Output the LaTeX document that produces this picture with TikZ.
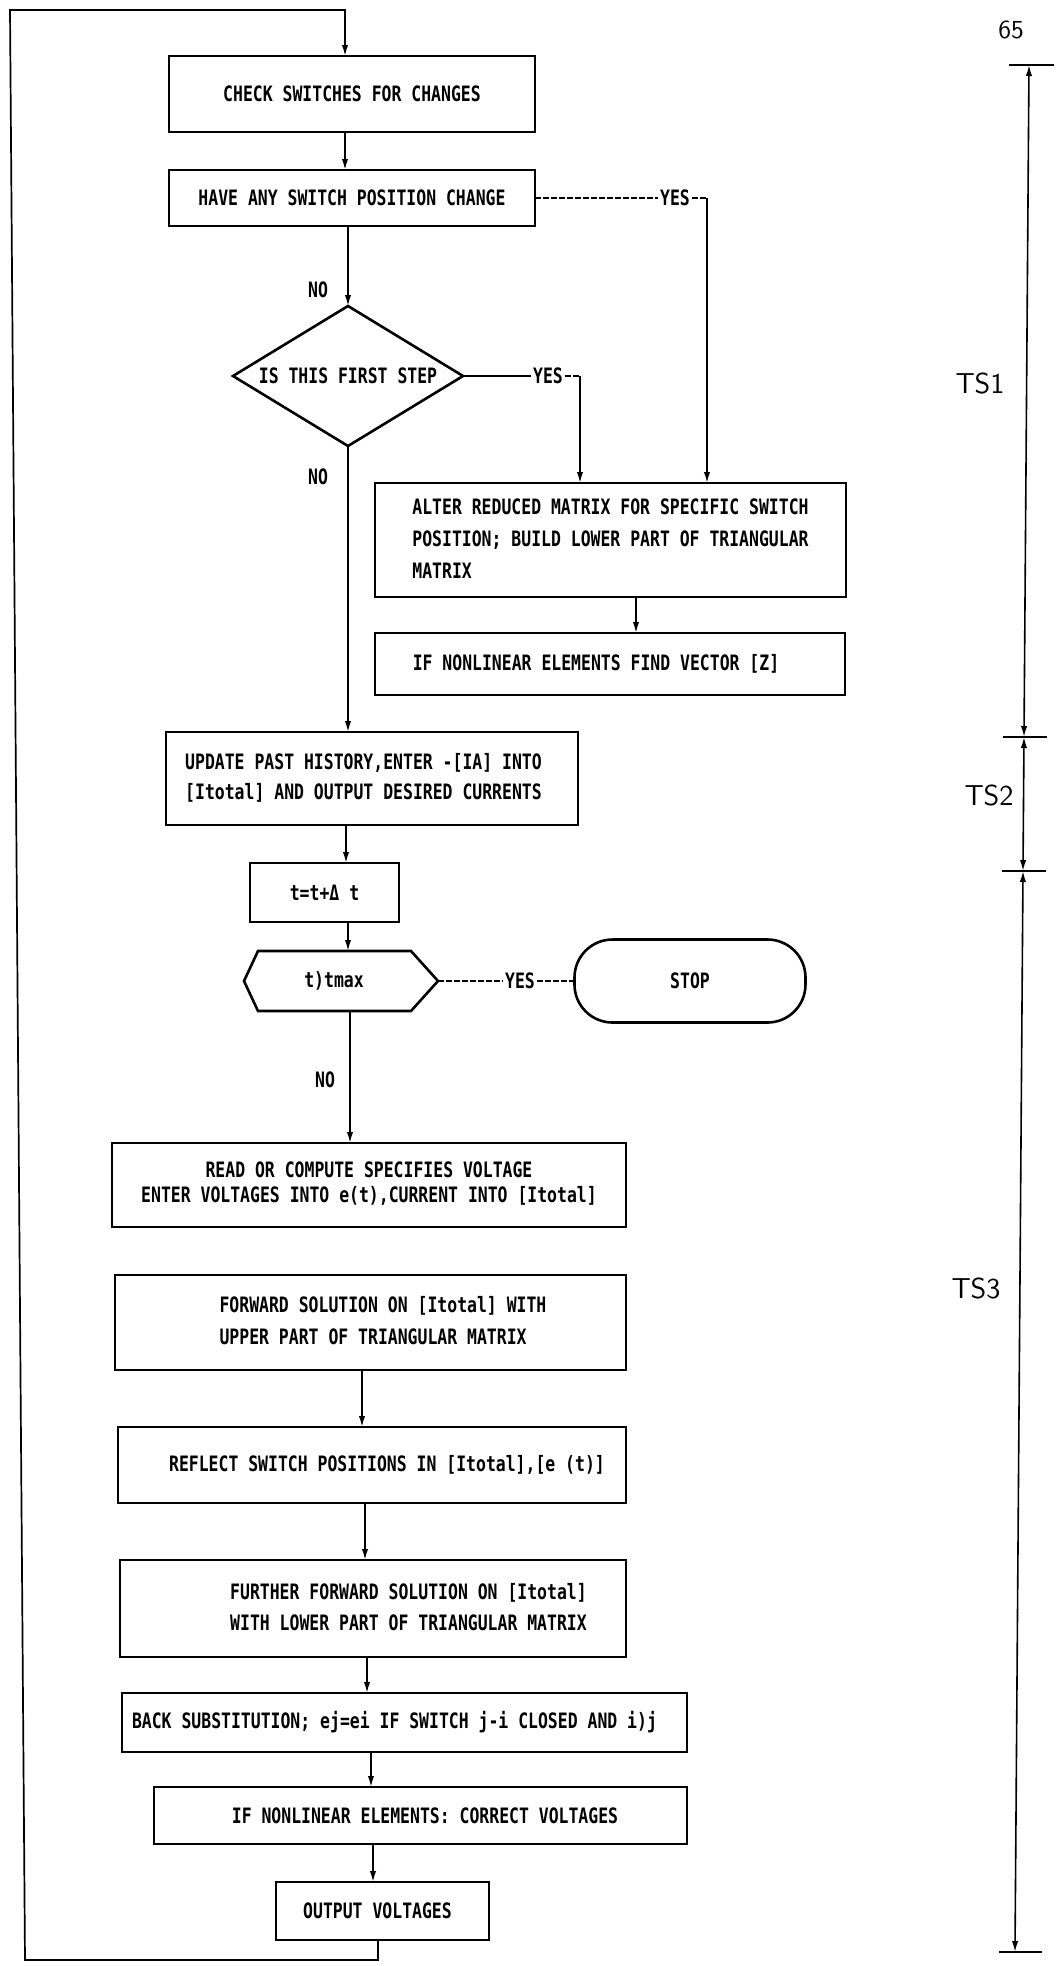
\documentclass[tikz,border=0pt]{standalone}
\usepackage{fontspec}
\usetikzlibrary{arrows.meta}
\newfontfamily\plotfont[FakeStretch=0.776]{DejaVu Sans Mono}
\newcommand{\plotsz}{\fontsize{10.6}{16}\plotfont\bfseries}
\newcommand{\tsfnt}{\fontsize{14.4}{16}\sffamily\addfontfeatures{LetterSpace=18}}
\newcommand{\rows}[2]{{\renewcommand{\arraystretch}{#1}\begin{tabular}{@{}l@{}}#2\end{tabular}}}
\newcommand{\rowsc}[2]{{\renewcommand{\arraystretch}{#1}\begin{tabular}{@{}c@{}}#2\end{tabular}}}
\begin{document}
\begin{tikzpicture}[x=0.5pt,y=-0.5pt,
  box/.style={draw, line width=1.3pt, inner xsep=1pt, inner ysep=0pt, outer sep=0pt, font=\plotsz},
  ghost/.style={draw=none, inner sep=0pt, outer sep=0pt, font=\plotsz},
  outline/.style={line width=1.3pt, line join=miter},
  lbl/.style={inner sep=1pt, outer sep=0pt, font=\plotsz},
  tsl/.style={inner sep=0pt, font=\tsfnt},
  conn/.style={line width=0.85pt},
  arr/.style={conn, -{Latex[length=5.5pt,width=3.2pt]}},
  dsh/.style={conn, dash pattern=on 3pt off 1pt},
  bar/.style={line width=1.2pt},
  dim/.style={line width=0.8pt, {Latex[length=5.5pt,width=3.2pt]}-{Latex[length=5.5pt,width=3.2pt]}}
]
\useasboundingbox[fill=white] (0,0) rectangle (1061,1966);

% ---- flow nodes
\node[box, minimum width=183pt, minimum height=38pt] (B1) at (352,94) {CHECK SWITCHES FOR CHANGES};
\node[box, minimum width=183pt, minimum height=28pt] (B2) at (352,198) {HAVE ANY SWITCH POSITION CHANGE};
\node[ghost, minimum width=115pt, minimum height=70pt] (D) at (348,376) {IS THIS FIRST STEP};
\draw[outline] (D.north) -- (D.east) -- (D.south) -- (D.west) -- cycle;
\node[box, minimum width=235.5pt, minimum height=57pt] (B3) at (610.5,540)
  {\rows{1}{ALTER REDUCED MATRIX FOR SPECIFIC SWITCH\\POSITION; BUILD LOWER PART OF TRIANGULAR\\MATRIX}};
\node[box, minimum width=235pt, minimum height=31pt] (B4) at (610,664) {IF NONLINEAR ELEMENTS FIND VECTOR [Z]\hspace*{14pt}};
\node[box, minimum width=206pt, minimum height=46.5pt] (B5) at (372,778.5)
  {\rows{0.94}{UPDATE PAST HISTORY,ENTER -[IA] INTO\\{}[Itotal] AND OUTPUT DESIRED CURRENTS}\hspace*{8.5pt}};
\node[box, minimum width=74.5pt, minimum height=29.5pt] (B6) at (324.5,892.5) {t=t+Δ t};
\node[ghost, minimum width=97pt, minimum height=30pt] (H) at (341,981) {t)tmax\hspace*{7pt}};
\draw[outline] (H.west) -- ([xshift=7pt]H.north west) -- ([xshift=-13.5pt]H.north east) -- (H.east)
  -- ([xshift=-13.5pt]H.south east) -- ([xshift=7pt]H.south west) -- cycle;
\node[box, rounded corners=19pt, minimum width=115.5pt, minimum height=41.5pt] (S) at (690,981) {STOP};
\node[box, minimum width=257pt, minimum height=42pt] (B7) at (369,1185)
  {\rowsc{0.78}{READ OR COMPUTE SPECIFIES VOLTAGE\\ENTER VOLTAGES INTO e(t),CURRENT INTO [Itotal]}};
\node[box, minimum width=255.5pt, minimum height=47.5pt] (B8) at (370.5,1322.5)
  {\hspace*{12.5pt}\rows{1}{FORWARD SOLUTION ON [Itotal] WITH\\UPPER PART OF TRIANGULAR MATRIX}};
\node[box, minimum width=254pt, minimum height=38pt] (B9) at (372,1465)
  {\hspace*{15pt}REFLECT SWITCH POSITIONS IN [Itotal],[e (t)]};
\node[box, minimum width=253pt, minimum height=48.5pt] (B10) at (373,1608.5)
  {\hspace*{35.5pt}\rows{0.97}{FURTHER FORWARD SOLUTION ON [Itotal]\\WITH LOWER PART OF TRIANGULAR MATRIX}};
\node[box, minimum width=282.5pt, minimum height=29.5pt] (B11) at (404.5,1722.5)
  {BACK SUBSTITUTION; ej=ei IF SWITCH j-i CLOSED AND i)j\hspace*{10pt}};
\node[box, minimum width=266.5pt, minimum height=28.5pt] (B12) at (420.5,1815.5)
  {\hspace*{4.5pt}IF NONLINEAR ELEMENTS: CORRECT VOLTAGES};
\node[box, minimum width=106.5pt, minimum height=29pt] (B13) at (382.5,1911) {OUTPUT VOLTAGES\hspace*{5pt}};

% ---- labels
\node[lbl] (no1) at (318,290) {NO};
\node[lbl] (no2) at (318,477) {NO};
\node[lbl] (no3) at (325,1080) {NO};
\node[lbl] (yes1) at (675,198) {YES};
\node[lbl] (yes2) at (548,376) {YES};
\node[lbl] (yes3) at (520,981) {YES};

% ---- connectors
\coordinate (lb) at (25,1960);
\coordinate (lt) at (10,10);
\draw[arr] (378,0 |- B13.south) |- (lb) -- (lt) -| (345,0 |- B1.north);
\draw[arr] (345,0 |- B1.south) -- (345,0 |- B2.north);
\draw[arr] (B2.south -| D.north) -- (D.north);
\draw[dsh] (B2.east) -- (yes1.west);
\coordinate (k1) at (707,198);
\draw[dsh] (yes1.east) -- (k1);
\draw[arr] (k1) -- (k1 |- B3.north);
\draw[conn, line width=1.3pt] (D.east) -- (yes2.west);
\coordinate (k2) at (580,376);
\draw[dsh] (yes2.east) -- (k2);
\draw[arr] (k2) -- (k2 |- B3.north);
\draw[arr] (D.south) -- (D.south |- B5.north);
\draw[arr] (636,0 |- B3.south) -- (636,0 |- B4.north);
\draw[arr] (346,0 |- B5.south) -- (346,0 |- B6.north);
\draw[arr] (348,0 |- B6.south) -- (348,0 |- H.north);
\draw[dsh] (H.east) -- (yes3.west);
\draw[dsh] (yes3.east) -- (S.west);
\draw[arr] (350,0 |- H.south) -- (350,0 |- B7.north);
\draw[arr] (362,0 |- B8.south) -- (362,0 |- B9.north);
\draw[arr] (365,0 |- B9.south) -- (365,0 |- B10.north);
\draw[arr] (367,0 |- B10.south) -- (367,0 |- B11.north);
\draw[arr] (371,0 |- B11.south) -- (371,0 |- B12.north);
\draw[arr] (373,0 |- B12.south) -- (373,0 |- B13.north);

% ---- time-step scale
\coordinate (s0) at (1029,65);
\coordinate (s1) at (1024,737);
\coordinate (s2) at (1023,871);
\coordinate (s3) at (1015,1952);
\draw[bar] (1009,65) -- (1054,65);
\draw[bar] (1003,737) -- (1047,737);
\draw[bar] (1002,871) -- (1046,871);
\draw[bar] (999,1952) -- (1042,1952);
\draw[dim] (s0) -- (s1);
\draw[dim] (s1) -- (s2);
\draw[dim] (s2) -- (s3);
\node[tsl] (ts1) at (980,383) {TS1};
\node[tsl] (ts2) at (989,795) {TS2};
\node[tsl] (ts3) at (976,1288) {TS3};
\node[inner sep=0pt, font=\fontsize{13}{14}\sffamily] (pg) at (1011,30) {65};
\end{tikzpicture}
\end{document}
